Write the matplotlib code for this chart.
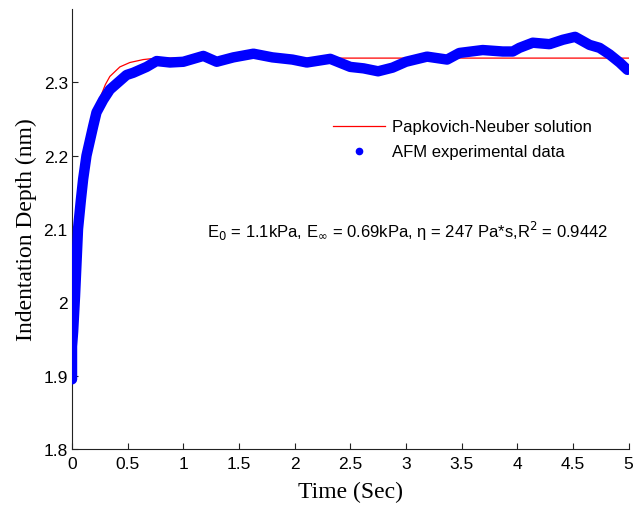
import matplotlib.pyplot as plt

afm_t = [0.0, 0.0, 0.01, 0.027, 0.054, 0.08, 0.1, 0.13, 0.19, 0.22, 0.28, 0.34,
         0.40, 0.49, 0.55, 0.67, 0.76, 0.88, 1.0, 1.18, 1.3, 1.45, 1.63, 1.8,
         1.98, 2.11, 2.32, 2.5, 2.62, 2.75, 2.88, 3.0, 3.19, 3.37, 3.48, 3.69,
         3.87, 3.96, 4.02, 4.14, 4.29, 4.41, 4.52, 4.65, 4.74, 4.83, 4.92, 4.99]
afm_d = [1.895, 1.94, 1.96, 2.008, 2.1, 2.14, 2.168, 2.2, 2.24, 2.259, 2.276, 2.29,
         2.298, 2.31, 2.313, 2.321, 2.329, 2.327, 2.328, 2.336, 2.328, 2.334, 2.339,
         2.334, 2.331, 2.327, 2.332, 2.321, 2.319, 2.315, 2.32, 2.328, 2.335, 2.331,
         2.34, 2.344, 2.342, 2.342, 2.347, 2.354, 2.352, 2.358, 2.362, 2.351, 2.347,
         2.338, 2.327, 2.317]

# red: Papkovich-Neuber fit
fit_t = [0.0, 0.027, 0.054, 0.1, 0.15, 0.2, 0.25, 0.3, 0.34, 0.43, 0.52, 0.64, 0.76, 5.0]
fit_d = [1.90, 2.01, 2.1, 2.172, 2.215, 2.25, 2.278, 2.297, 2.308, 2.321, 2.327,
         2.331, 2.333, 2.333]

plt.rcParams['font.family'] = ['Liberation Sans', 'DejaVu Sans']

fig = plt.figure(figsize=(6.35, 5.06), dpi=100)
ax = fig.add_axes([0.1134, 0.1107, 0.8764, 0.8696])

# fit drawn first so the data band covers it where they overlap
ax.plot(fit_t, fit_d, '-', color='red', lw=0.9, zorder=2)
ax.plot(afm_t, afm_d, '-', color='#0000ff', lw=7.5, solid_capstyle='round',
        solid_joinstyle='round', zorder=3)

# legend proxies
ax.plot([], [], '-', color='red', lw=0.9, label='Papkovich-Neuber solution')
ax.plot([], [], 'o', color='#0000ff', ms=4.5, label='AFM experimental data')
ax.legend(loc='upper left', bbox_to_anchor=(0.4426, 0.783), frameon=False,
          fontsize=12, handlelength=3.1, handletextpad=0.4, labelspacing=0.6)

ax.text(0.242, 0.496,
        r'E$_0$ = 1.1kPa, E$_\infty$ = 0.69kPa, η = 247 Pa*s,R$^2$ = 0.9442',
        transform=ax.transAxes, fontsize=12, ha='left', va='center')

ax.set_xlim(0, 5)
ax.set_ylim(1.8, 2.4)
ax.set_xticks([0, 0.5, 1, 1.5, 2, 2.5, 3, 3.5, 4, 4.5, 5])
ax.set_xticklabels(['0', '0.5', '1', '1.5', '2', '2.5', '3', '3.5', '4', '4.5', '5'])
ax.set_yticks([1.8, 1.9, 2.0, 2.1, 2.2, 2.3])
ax.set_yticklabels(['1.8', '1.9', '2', '2.1', '2.2', '2.3'])
ax.tick_params(direction='in', length=4, width=0.8, labelsize=12.5, color='#222222')
ax.tick_params(axis='x', pad=5)
ax.tick_params(axis='y', pad=3)
for s in ['top', 'right']:
    ax.spines[s].set_visible(False)
for s in ['left', 'bottom']:
    ax.spines[s].set_color('#222222')
    ax.spines[s].set_linewidth(0.8)

ax.set_xlabel('Time (Sec)', family='Liberation Serif', fontsize=17, labelpad=7)
ax.set_ylabel('Indentation Depth (nm)', family='Liberation Serif', fontsize=17, labelpad=5)

fig.savefig('out.png', dpi=100)
